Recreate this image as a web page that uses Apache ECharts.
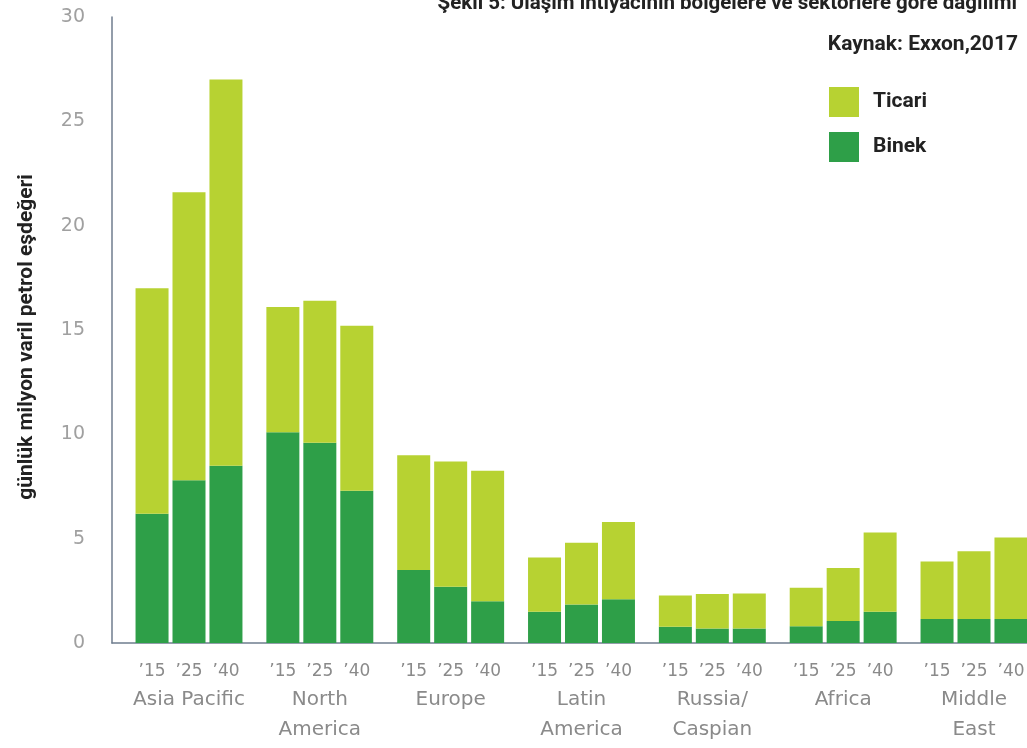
<!DOCTYPE html>
<html><head><meta charset="utf-8">
<script src="https://cdn.jsdelivr.net/npm/echarts@6/dist/echarts.min.js"></script>
<style>html,body{margin:0;padding:0;background:#fff}#c{width:1027px;height:748px}</style>
</head><body><div id="c"></div>
<script>
const regions = ["Asia Pacific","North\nAmerica","Europe","Latin\nAmerica","Russia/\nCaspian","Africa","Middle\nEast"];
const yearLabels = ["’15","’25","’40"];
const binek15 = [6.2,10.1,3.5,1.5,0.78,0.8,1.15];
const binek25 = [7.8,9.6,2.7,1.85,0.7,1.05,1.15];
const binek40 = [8.5,7.3,2.0,2.1,0.7,1.5,1.15];
const ticari15 = [10.8,6.0,5.5,2.6,1.5,1.85,2.75];
const ticari25 = [13.8,6.8,6.0,2.95,1.65,2.55,3.25];
const ticari40 = [18.5,7.9,6.25,3.7,1.67,3.8,3.9];
const yMin = 0, yMax = 30, yStep = 5;

const COL_TICARI = '#b7d232';
const COL_BINEK = '#2e9f48';
const AXIS_COL = '#6f7d8e';

const years = [[binek15, ticari15], [binek25, ticari25], [binek40, ticari40]];
const series = [];
years.forEach((pair, i) => {
  series.push({name:'Binek', type:'bar', stack:'s'+i, data:pair[0], barWidth:33, barGap:'12%',
    clip:false, xAxisIndex:0, yAxisIndex:0, itemStyle:{color:COL_BINEK}});
  series.push({name:'Ticari', type:'bar', stack:'s'+i, data:pair[1], barWidth:33, barGap:'12%',
    clip:false, xAxisIndex:0, yAxisIndex:0, itemStyle:{color:COL_TICARI}});
});

const chart = echarts.init(document.getElementById('c'), null, {renderer:'canvas'});
chart.setOption({
  backgroundColor:'#ffffff',
  animation:false,
  title:[
    {text:'Şekil 5: Ulaşım ihtiyacının bölgelere ve sektörlere göre dağılımı', right:5, top:-12,
      textStyle:{fontFamily:'Roboto', fontWeight:'bold', fontSize:20.5, color:'#222'}},
    {text:'Kaynak: Exxon,2017', right:4, top:29,
      textStyle:{fontFamily:'Roboto', fontWeight:'bold', fontSize:21, color:'#222'}}
  ],
  legend:{
    data:['Ticari','Binek'], orient:'vertical', left:824, top:82,
    itemWidth:30, itemHeight:30, itemGap:15, icon:'rect',
    textStyle:{fontFamily:'Roboto', fontWeight:'bold', fontSize:21, color:'#222', padding:[0,0,0,9]}
  },
  grid:[
    {left:189, right:53, top:17, bottom:105, containLabel:false, outerBoundsMode:'none'},
    {left:112, right:0, top:17, bottom:105, containLabel:false, outerBoundsMode:'none'}
  ],
  xAxis:[
    {
      type:'category', data:regions, gridIndex:0, boundaryGap:false,
      axisLine:{show:false}, axisTick:{show:false}, splitLine:{show:false},
      axisLabel:{
        margin:16, interval:0,
        formatter:(v)=> yearLabels.map(y=>'{y|'+y+'}').join('') + '\n{r|' + v + '}',
        rich:{
          y:{width:37, align:'center', fontFamily:'DejaVu Sans', fontSize:17, lineHeight:26, color:'#8a8a8a'},
          r:{fontFamily:'DejaVu Sans', fontSize:20, lineHeight:30, color:'#8a8a8a'}
        }
      }
    },
    {
      type:'value', gridIndex:1, min:0, max:1,
      axisLine:{show:true, onZero:false, lineStyle:{color:AXIS_COL, width:1.5}},
      axisTick:{show:false}, axisLabel:{show:false}, splitLine:{show:false}
    }
  ],
  yAxis:[
    {type:'value', gridIndex:0, min:yMin, max:yMax, interval:yStep, show:false},
    {
      type:'value', gridIndex:1, min:yMin, max:yMax, interval:yStep,
      name:'günlük milyon varil petrol eşdeğeri', nameLocation:'middle', nameGap:75, nameRotate:90,
      nameTextStyle:{fontFamily:'Roboto', fontWeight:'bold', fontSize:21, color:'#222', padding:[0,14,0,0]},
      axisLine:{show:true, onZero:false, lineStyle:{color:AXIS_COL, width:1.5}},
      axisTick:{show:false},
      splitLine:{show:false},
      axisLabel:{margin:27, fontFamily:'DejaVu Sans', fontSize:19, color:'#a0a0a0'}
    }
  ],
  series:series
});
</script></body></html>
